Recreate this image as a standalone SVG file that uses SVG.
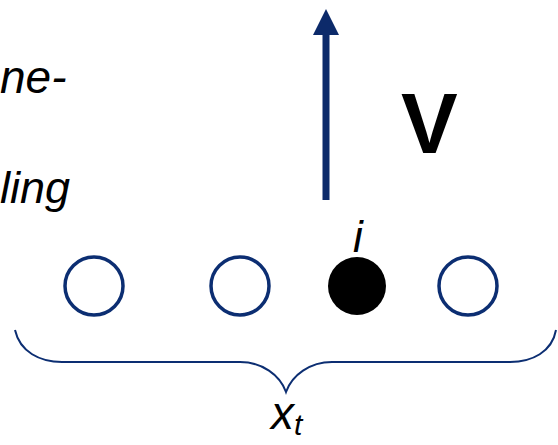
<svg xmlns="http://www.w3.org/2000/svg" width="558" height="445" viewBox="0 0 558 445">
<style>
.lbl{font-family:"Liberation Sans",Arial,sans-serif;font-style:italic;fill:#000}
.node{fill:none;stroke:#0c2e72;stroke-width:3.5}
.brace{fill:none;stroke:#0c2e72;stroke-width:2}
.arrow{stroke:#0c2a6a;stroke-width:7;fill:none}
</style>
<rect width="558" height="445" fill="#fff"/>
<g id="text-left">
<text class="lbl" x="0" y="93" font-size="46">ne-</text>
<text class="lbl" x="0" y="203" font-size="45">ling</text>
</g>
<g id="connectors">
<line class="arrow" x1="326" y1="200" x2="326" y2="34"/>
<path d="M326,9 L313,35 L339,35 Z" fill="#0c2a6a"/>
<path class="brace" d="M15,330 C20,352 40,362 62,362 L240,362 C262,362 280,375 286,392 C292,375 310,362 332,362 L510,362 C532,362 552,352 556,330"/>
</g>
<g id="label-V">
<text x="401" y="153" font-family="Liberation Sans,Arial,sans-serif" font-weight="bold" font-size="85" fill="#000">V</text>
</g>
<g id="node1"><circle class="node" cx="94" cy="286" r="29"/></g>
<g id="node2"><circle class="node" cx="240" cy="286" r="29"/></g>
<g id="node-i">
<circle cx="357" cy="286" r="29" fill="#000"/>
<text class="lbl" x="353" y="252" font-size="44">i</text>
</g>
<g id="node4"><circle class="node" cx="468" cy="286" r="29"/></g>
<g id="label-xt">
<text class="lbl" x="271" y="429" font-size="46">x<tspan font-size="30" dy="6">t</tspan></text>
</g>
</svg>
